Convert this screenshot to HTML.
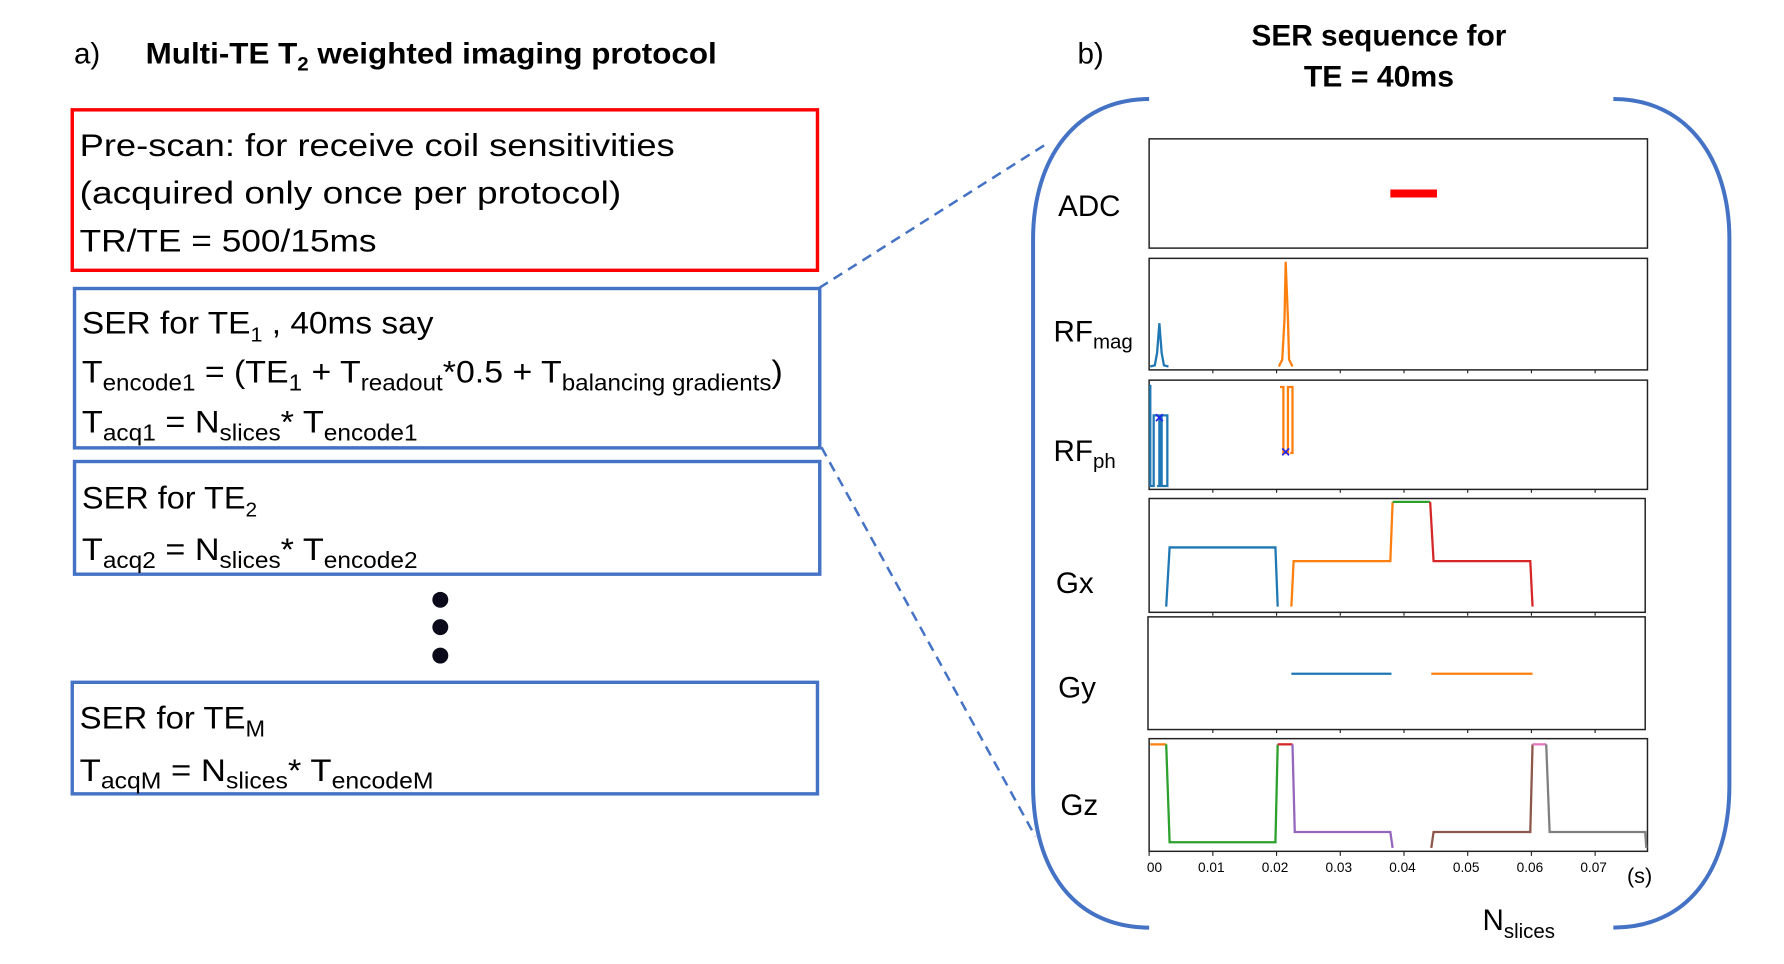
<!DOCTYPE html>
<html><head><meta charset="utf-8"><style>
html,body{margin:0;padding:0;background:#fff;width:1784px;height:964px;overflow:hidden}
svg{display:block}
text{font-family:"Liberation Sans",sans-serif;fill:#000}
.b{font-size:26px}
.t{font-size:28px}
.ax{fill:none;stroke:#222;stroke-width:1.3}
.p{fill:none;stroke-width:2}
</style></head><body>
<svg width="1784" height="964" viewBox="0 0 1568 847" preserveAspectRatio="none" xmlns="http://www.w3.org/2000/svg">
<!-- titles -->
<text x="65" y="56" class="b">a)</text>
<text x="128" y="56" class="b" font-weight="bold" textLength="502" lengthAdjust="spacingAndGlyphs">Multi-TE T<tspan font-size="17" dy="6">2</tspan><tspan dy="-6"> weighted imaging protocol</tspan></text>
<text x="947" y="56" class="b">b)</text>
<text x="1100" y="40" class="b" font-weight="bold" textLength="224" lengthAdjust="spacingAndGlyphs">SER sequence for</text>
<text x="1146" y="76" class="b" font-weight="bold" textLength="132" lengthAdjust="spacingAndGlyphs">TE = 40ms</text>

<!-- boxes -->
<rect x="63.5" y="96.5" width="655" height="141" fill="none" stroke="#ff0000" stroke-width="3"/>
<text x="70" y="137" class="t" textLength="523" lengthAdjust="spacingAndGlyphs">Pre-scan: for receive coil sensitivities</text>
<text x="70" y="179" class="t" textLength="476" lengthAdjust="spacingAndGlyphs">(acquired only once per protocol)</text>
<text x="70" y="221" class="t" textLength="261" lengthAdjust="spacingAndGlyphs">TR/TE = 500/15ms</text>

<rect x="65.5" y="253.5" width="655" height="140" fill="none" stroke="#4472C4" stroke-width="3"/>
<text x="72" y="293" class="t" textLength="309" lengthAdjust="spacingAndGlyphs">SER for TE<tspan font-size="18" dy="7">1</tspan><tspan dy="-7"> , 40ms say</tspan></text>
<text x="72" y="336" class="t" textLength="616" lengthAdjust="spacingAndGlyphs">T<tspan font-size="20" dy="7">encode1</tspan><tspan dy="-7"> = (TE</tspan><tspan font-size="20" dy="7">1</tspan><tspan dy="-7"> + T</tspan><tspan font-size="20" dy="7">readout</tspan><tspan dy="-7">*0.5 + T</tspan><tspan font-size="20" dy="7">balancing gradients</tspan><tspan dy="-7">)</tspan></text>
<text x="72" y="380" class="t" textLength="295" lengthAdjust="spacingAndGlyphs">T<tspan font-size="20" dy="7">acq1</tspan><tspan dy="-7"> =  N</tspan><tspan font-size="20" dy="7">slices</tspan><tspan dy="-7">* T</tspan><tspan font-size="20" dy="7">encode1</tspan></text>

<rect x="65.5" y="405.5" width="655" height="99" fill="none" stroke="#4472C4" stroke-width="3"/>
<text x="72" y="447" class="t" textLength="154" lengthAdjust="spacingAndGlyphs">SER for TE<tspan font-size="18" dy="7">2</tspan></text>
<text x="72" y="492" class="t" textLength="295" lengthAdjust="spacingAndGlyphs">T<tspan font-size="20" dy="7">acq2</tspan><tspan dy="-7"> =  N</tspan><tspan font-size="20" dy="7">slices</tspan><tspan dy="-7">* T</tspan><tspan font-size="20" dy="7">encode2</tspan></text>

<circle cx="387" cy="527" r="7" fill="#0a0a1a"/>
<circle cx="387" cy="551" r="7" fill="#0a0a1a"/>
<circle cx="387" cy="576" r="7" fill="#0a0a1a"/>

<rect x="63.5" y="599.5" width="655" height="98" fill="none" stroke="#4472C4" stroke-width="3"/>
<text x="70" y="640" class="t" textLength="163" lengthAdjust="spacingAndGlyphs">SER for TE<tspan font-size="20" dy="7">M</tspan></text>
<text x="70" y="686" class="t" textLength="311" lengthAdjust="spacingAndGlyphs">T<tspan font-size="20" dy="7">acqM</tspan><tspan dy="-7"> =  N</tspan><tspan font-size="20" dy="7">slices</tspan><tspan dy="-7">* T</tspan><tspan font-size="20" dy="7">encodeM</tspan></text>

<!-- dashed connectors -->
<line x1="720" y1="253" x2="922" y2="125" stroke="#4472C4" stroke-width="2.2" stroke-dasharray="9,6"/>
<line x1="722" y1="393" x2="910" y2="735" stroke="#4472C4" stroke-width="2.2" stroke-dasharray="9,6"/>

<!-- brackets -->
<path d="M1010,87 C945,87 908,140 908,210 L908,690 C908,765 945,815 1010,815" fill="none" stroke="#4472C4" stroke-width="3.5"/>
<path d="M1418,87 C1483,87 1520,140 1520,210 L1520,690 C1520,765 1483,815 1418,815" fill="none" stroke="#4472C4" stroke-width="3.5"/>

<!-- panels -->
<rect x="1010" y="122" width="438" height="96" class="ax"/>
<rect x="1010" y="227" width="438" height="98" class="ax"/>
<rect x="1010" y="334" width="438" height="96" class="ax"/>
<rect x="1010" y="438" width="436" height="100" class="ax"/>
<rect x="1009" y="542" width="437" height="99" class="ax"/>
<rect x="1010" y="649" width="438" height="99" class="ax"/>
<g stroke="#222" stroke-width="1">
<path d="M1066,748v4M1122,748v4M1178,748v4M1234,748v4M1290,748v4M1346,748v4M1402,748v4M1010,748v4"/>
<path d="M1066,325v3M1122,325v3M1178,325v3M1234,325v3M1290,325v3M1346,325v3M1402,325v3"/>
<path d="M1066,430v3M1122,430v3M1178,430v3M1234,430v3M1290,430v3M1346,430v3M1402,430v3"/>
<path d="M1066,538v3M1122,538v3M1178,538v3M1234,538v3M1290,538v3M1346,538v3M1402,538v3"/>
<path d="M1066,641v3M1122,641v3M1178,641v3M1234,641v3M1290,641v3M1346,641v3M1402,641v3"/>
</g>

<text x="930" y="190" class="b">ADC</text>
<text x="926" y="300" class="b">RF<tspan font-size="18" dy="6">mag</tspan></text>
<text x="926" y="405" class="b">RF<tspan font-size="18" dy="6">ph</tspan></text>
<text x="928" y="521" class="b">Gx</text>
<text x="930" y="613" class="b">Gy</text>
<text x="932" y="716" class="b">Gz</text>

<!-- ADC -->
<line x1="1222" y1="170" x2="1263" y2="170" stroke="#ff0000" stroke-width="7"/>
<!-- RF mag -->
<path class="p" stroke="#1f77b4" d="M1011,322 L1015,321 L1017,310 L1019,284 L1021,310 L1023,321 L1027,322"/>
<path class="p" stroke="#ff7f0e" d="M1124,322 L1127,316 L1129,280 L1130,230 L1132,280 L1133,316 L1136,322"/>
<!-- RF ph -->
<path class="p" stroke="#1f77b4" d="M1011,338 L1011,427 L1014,427 L1014,365 L1019,365 L1019,427 L1021,427 L1021,365 L1026,365 L1026,427 L1017,427"/>
<path class="p" stroke="#ff7f0e" d="M1125,340 L1128,340 L1128,398 L1132,398 L1132,340 L1136,340 L1136,398 L1134,398"/>
<path d="M1016,364l6,6M1022,364l-6,6M1127,394l6,6M1133,394l-6,6" stroke="#2222ee" stroke-width="1.5"/>
<!-- Gx -->
<path class="p" stroke="#1f77b4" d="M1025,533 L1028,481 L1121,481 L1123,533"/>
<path class="p" stroke="#ff7f0e" d="M1135,533 L1137,493 L1222,493 L1224,441"/>
<path class="p" stroke="#2ca02c" d="M1224,441 L1257,441"/>
<path class="p" stroke="#d62728" d="M1257,441 L1260,493 L1345,493 L1347,533"/>
<!-- Gy -->
<line x1="1135" y1="592" x2="1223" y2="592" stroke="#1f77b4" stroke-width="2"/>
<line x1="1258" y1="592" x2="1347" y2="592" stroke="#ff7f0e" stroke-width="2"/>
<!-- Gz -->
<path class="p" stroke="#ff7f0e" d="M1011,654 L1025,654"/>
<path class="p" stroke="#2ca02c" d="M1025,654 L1028,740 L1121,740 L1123,654"/>
<path class="p" stroke="#d62728" d="M1123,654 L1136,654"/>
<path class="p" stroke="#9467bd" d="M1136,654 L1138,731 L1222,731 L1224,745"/>
<path class="p" stroke="#8c564b" d="M1258,745 L1260,731 L1345,731 L1347,654"/>
<path class="p" stroke="#e377c2" d="M1347,654 L1359,654"/>
<path class="p" stroke="#7f7f7f" d="M1359,654 L1362,731 L1446,731 L1447,745"/>

<g font-size="12">
<text x="1008" y="766">00</text>
<text x="1053" y="766">0.01</text>
<text x="1109" y="766">0.02</text>
<text x="1165" y="766">0.03</text>
<text x="1221" y="766">0.04</text>
<text x="1277" y="766">0.05</text>
<text x="1333" y="766">0.06</text>
<text x="1389" y="766">0.07</text>
</g>
<text x="1430" y="776" font-size="19">(s)</text>
<text x="1303" y="817" class="b">N<tspan font-size="18" dy="7">slices</tspan></text>
</svg>
</body></html>
